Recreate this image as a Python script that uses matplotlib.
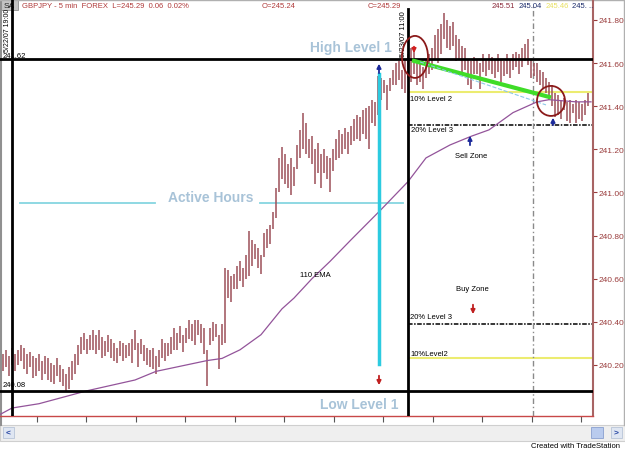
import matplotlib
matplotlib.use("Agg")
import matplotlib.pyplot as plt
from matplotlib.patches import Ellipse, Rectangle
import numpy as np

plt.rcParams['font.family'] = ['Liberation Sans', 'DejaVu Sans']

# GBPJPY 5 min bars
highs = [240.25, 240.27, 240.24, 240.28, 240.25, 240.27, 240.29, 240.28, 240.25, 240.26,
         240.24, 240.23, 240.25, 240.22, 240.24, 240.23, 240.21, 240.20, 240.23, 240.20,
         240.18, 240.16, 240.19, 240.22, 240.25, 240.29, 240.33, 240.35, 240.32, 240.34,
         240.36, 240.34, 240.36, 240.33, 240.31, 240.34, 240.32, 240.30, 240.28, 240.31,
         240.30, 240.29, 240.30, 240.32, 240.36, 240.30, 240.32, 240.29, 240.28, 240.27,
         240.28, 240.24, 240.27, 240.32, 240.30, 240.30, 240.33, 240.37, 240.35, 240.38,
         240.34, 240.37, 240.41, 240.39, 240.41, 240.41, 240.39, 240.37, 240.27, 240.37,
         240.40, 240.39, 240.34, 240.39, 240.65, 240.64, 240.61, 240.62, 240.66, 240.68,
         240.65, 240.71, 240.82, 240.78, 240.76, 240.74, 240.71, 240.81, 240.83, 240.85,
         240.91, 241.02, 241.16, 241.21, 241.18, 241.13, 241.16, 241.12, 241.22, 241.29,
         241.37, 241.32, 241.25, 241.26, 241.20, 241.23, 241.18, 241.20, 241.17, 241.16,
         241.20, 241.25, 241.29, 241.27, 241.30, 241.28, 241.31, 241.34, 241.36, 241.35,
         241.38, 241.39, 241.40, 241.43, 241.42, 241.54, 241.53, 241.52, 241.50, 241.53,
         241.57, 241.60, 241.61, 241.57, 241.62, 241.64, 241.67, 241.66, 241.62, 241.61,
         241.58, 241.62, 241.64, 241.67, 241.73, 241.76, 241.78, 241.83, 241.80, 241.77,
         241.79, 241.73, 241.71, 241.68, 241.67, 241.62, 241.61, 241.63, 241.62, 241.60,
         241.64, 241.62, 241.64, 241.63, 241.62, 241.64, 241.62, 241.61, 241.64, 241.62,
         241.64, 241.65, 241.64, 241.67, 241.69, 241.71, 241.62, 241.60, 241.60, 241.57,
         241.56, 241.53, 241.51, 241.50, 241.46, 241.45, 241.43, 241.44, 241.42, 241.43,
         241.41, 241.43, 241.42, 241.41, 241.43, 241.46]
lows = [240.17, 240.19, 240.15, 240.20, 240.17, 240.20, 240.22, 240.18, 240.16, 240.19,
        240.14, 240.15, 240.17, 240.13, 240.16, 240.13, 240.12, 240.11, 240.15, 240.12,
        240.10, 240.08, 240.09, 240.13, 240.16, 240.20, 240.25, 240.27, 240.25, 240.27,
        240.27, 240.25, 240.27, 240.23, 240.24, 240.26, 240.23, 240.22, 240.21, 240.24,
        240.22, 240.23, 240.24, 240.21, 240.27, 240.19, 240.25, 240.22, 240.20, 240.19,
        240.18, 240.16, 240.19, 240.23, 240.22, 240.24, 240.25, 240.27, 240.27, 240.30,
        240.26, 240.30, 240.32, 240.31, 240.29, 240.34, 240.30, 240.25, 240.10, 240.29,
        240.31, 240.33, 240.18, 240.29, 240.30, 240.51, 240.49, 240.55, 240.55, 240.59,
        240.56, 240.60, 240.61, 240.66, 240.69, 240.65, 240.62, 240.70, 240.74, 240.76,
        240.83, 240.88, 241.00, 241.06, 241.04, 241.02, 240.99, 241.03, 241.11, 241.16,
        241.20, 241.18, 241.16, 241.13, 241.04, 241.09, 241.02, 241.09, 241.06, 241.00,
        241.10, 241.15, 241.16, 241.18, 241.20, 241.18, 241.22, 241.24, 241.25, 241.24,
        241.27, 241.25, 241.20, 241.32, 241.31, 241.36, 241.43, 241.46, 241.38, 241.47,
        241.50, 241.50, 241.52, 241.48, 241.46, 241.53, 241.51, 241.55, 241.50, 241.51,
        241.48, 241.53, 241.55, 241.57, 241.62, 241.60, 241.64, 241.71, 241.67, 241.66,
        241.68, 241.61, 241.62, 241.56, 241.57, 241.50, 241.48, 241.55, 241.55, 241.48,
        241.56, 241.54, 241.57, 241.55, 241.53, 241.56, 241.51, 241.54, 241.55, 241.53,
        241.57, 241.58, 241.55, 241.58, 241.61, 241.59, 241.53, 241.54, 241.51, 241.50,
        241.48, 241.46, 241.43, 241.40, 241.35, 241.36, 241.34, 241.38, 241.33, 241.32,
        241.37, 241.32, 241.34, 241.33, 241.36, 241.40]

# 110 EMA, sampled along the curve
ema_bar = [-1, 3, 12, 28, 44, 51, 68, 73, 79, 86, 93, 97, 103, 109, 116, 126,
           135, 141, 149, 156, 162, 170, 178, 182, 191, 196]
ema_val = [239.97, 240.00, 240.02, 240.08, 240.13, 240.17, 240.22, 240.23, 240.27,
           240.34, 240.46, 240.51, 240.60, 240.68, 240.78, 240.92, 241.05, 241.16,
           241.22, 241.26, 241.29, 241.37, 241.42, 241.43, 241.42, 241.42]

high_level = 241.62
low_level = 240.08
sell_10 = 241.466
sell_20 = 241.312
buy_20 = 240.388
buy_10 = 240.234
price_ticks = [240.20, 240.40, 240.60, 240.80, 241.00, 241.20, 241.40, 241.60, 241.80]

W, H = 625, 452
fig = plt.figure(figsize=(W / 100, H / 100), dpi=100)

# background / frame in image pixels
bg = fig.add_axes([0, 0, 1, 1], zorder=0)
bg.set_xlim(0, W)
bg.set_ylim(H, 0)
bg.axis('off')
bg.add_patch(Rectangle((0, 426), W, 16, fc='#efefef', ec='#cfcfcf', lw=0.8))
bg.add_patch(Rectangle((3, 428), 11, 11, fc='#dfe6f2', ec='#b8c4d8', lw=0.6))
bg.text(8.5, 433.5, '<', ha='center', va='center', fontsize=6, color='#2040a0', weight='bold')
bg.add_patch(Rectangle((591, 428), 12, 11, fc='#b9cbee', ec='#8aa0d0', lw=0.6))
bg.add_patch(Rectangle((611, 428), 11, 11, fc='#dfe6f2', ec='#b8c4d8', lw=0.6))
bg.text(616.5, 433.5, '>', ha='center', va='center', fontsize=6, color='#2040a0', weight='bold')
bg.plot([1, 1], [0, 426], color='#909090', lw=1.5)
bg.plot([0, W], [0.5, 0.5], color='#b0b0b0', lw=1)
bg.plot([623.5, 623.5], [0, 426], color='#b0b0b0', lw=1)
bg.add_patch(Rectangle((0, 0), 18, 11, fc='#c4c4c4', ec='#909090', lw=0.6))
bg.text(9, 6, 'SA', ha='center', va='center', fontsize=6, color='#202020')

ax = fig.add_axes([0, 35 / H, 593 / W, 417 / H], zorder=1)
ax.patch.set_alpha(0)
ax.set_xlim(-1, 196.67)
ax.set_ylim(239.963, 241.897)


def pos(x, y):
    # image pixel -> chart coords
    return x / 3 - 1, 241.80 - (y - 21) / 215.6


bars = np.arange(len(highs))
ax.vlines(bars, lows, highs, color='#9c5058', lw=1.1, zorder=3)
ax.plot(ema_bar, ema_val, color='#93549a', lw=0.9, zorder=4)

# levels
ax.axhline(high_level, color='black', lw=2, zorder=5)
ax.axhline(low_level, color='black', lw=2, zorder=5)
x_sess = pos(408, 0)[0]
ax.hlines([sell_10, buy_10], x_sess, 196.67, color='#ecec70', lw=1.5, zorder=2)
ax.hlines([sell_20, buy_20], x_sess, 196.67, color='black', lw=1.1,
          linestyles=[(0, (3, 1, 1, 1))], zorder=2)

ax.axvline(pos(12, 0)[0], color='black', lw=2, zorder=5)
ax.axvline(x_sess, ymax=1 - 10 / 417, color='black', lw=2, zorder=5)
ax.axvline(pos(533, 0)[0], ymax=1 - 5 / 417, color='#8a8a8a', lw=1,
           ls=(0, (4, 2, 1, 2)), zorder=2)

# active hours
cx = pos(379, 0)[0]
ax.plot([cx, cx], [pos(0, 75)[1], pos(0, 365)[1]], color='#2ccbe0', lw=2.5, zorder=6)
ax.plot([pos(20, 0)[0], pos(155, 0)[0]], [pos(0, 204)[1]] * 2, color='#86d6e0', lw=1.3)
ax.plot([pos(260, 0)[0], pos(403, 0)[0]], [pos(0, 204)[1]] * 2, color='#86d6e0', lw=1.3)

big = dict(ha='center', va='center', color='#a8c3d8', fontsize=10, weight='bold', zorder=7)
ax.text(*pos(351, 48), 'High Level 1', **big)
ax.text(*pos(211, 198), 'Active Hours', **big)
ax.text(*pos(359, 405), 'Low Level 1', **big)

small = dict(fontsize=5.5, color='black', zorder=7)
ax.text(*pos(300, 276), '110 EMA', va='center', **small)
ax.text(*pos(410, 100), '10% Level 2', va='center', **small)
ax.text(*pos(411, 131), '20% Level 3', va='center', **small)
ax.text(*pos(471, 157), 'Sell Zone', ha='center', va='center', **small)
ax.text(*pos(472, 290), 'Buy Zone', ha='center', va='center', **small)
ax.text(*pos(410, 318), '20% Level 3', va='center', **small)
ax.text(*pos(410, 355), '10%Level2', va='center', **small)
ax.text(*pos(3, 57), '241.62', va='center', **small)
ax.text(*pos(3, 386), '240.08', va='center', **small)
ax.text(*pos(8, 30), '5/22/07 19:00', rotation=90, ha='center', va='center',
        fontsize=5, color='black', zorder=7)
ax.text(*pos(404, 34), '5/23/07 11:00', rotation=90, ha='center', va='center', **small)

# trend lines
ax.plot(*zip(pos(414, 62), pos(549, 98)), color='#3fdc28', lw=3, zorder=6)
ax.plot(*zip(pos(420, 63), pos(546, 106)), color='#8cc8e8', lw=0.8, ls='--', zorder=6)

ax.add_patch(Ellipse(pos(415, 58), 26 / 3, 42 / 215.6, fill=False, ec='#8b1a1a', lw=1.3, zorder=8))
ax.add_patch(Ellipse(pos(551, 102), 28 / 3, 30 / 215.6, fill=False, ec='#8b1a1a', lw=1.3, zorder=8))


def arrow(x, y0, y1, color):
    ax.annotate('', xy=pos(x, y1), xytext=pos(x, y0), zorder=8,
                arrowprops=dict(arrowstyle='-|>', color=color, lw=1.3, mutation_scale=6))


arrow(379, 77, 62, '#1c2a9a')
arrow(379, 374, 389, '#c02020')
arrow(470, 149, 134, '#1c2a9a')
arrow(473, 303, 318, '#c02020')
arrow(553, 129, 116, '#1c2a9a')
arrow(414, 45, 57, '#d02020')

# axes look
ax.yaxis.tick_right()
ax.set_yticks(price_ticks)
ax.set_yticklabels(['%.2f' % p for p in price_ticks])
ax.tick_params(axis='y', colors='#9a3c3c', labelsize=6, length=3, width=0.8, pad=1)
ax.set_xticks(np.arange(11.33, 197, 16.5))
ax.tick_params(axis='x', length=4, width=0.8, color='#555555', labelbottom=False)
for s in ['left', 'top']:
    ax.spines[s].set_visible(False)
ax.spines['right'].set_color('#a86464')
ax.spines['right'].set_linewidth(1.5)
ax.spines['bottom'].set_color('#c84848')
ax.spines['bottom'].set_linewidth(1)

# header
hdr = dict(fontsize=5.5, va='center')
fig.text(22 / W, 1 - 7 / H, 'GBPJPY - 5 min  FOREX  L=245.29  0.06  0.02%', color='#b03a3a', **hdr)
fig.text(262 / W, 1 - 7 / H, 'O=245.24', color='#b03a3a', **hdr)
fig.text(368 / W, 1 - 7 / H, 'C=245.29', color='#b03a3a', **hdr)
fig.text(492 / W, 1 - 7 / H, '245.51', color='#8a2a3a', **hdr)
fig.text(519 / W, 1 - 7 / H, '245.04', color='#1a2a6a', **hdr)
fig.text(546 / W, 1 - 7 / H, '245.46', color='#e8e060', **hdr)
fig.text(572 / W, 1 - 7 / H, '245. ..', color='#1a2a6a', **hdr)
fig.text(620 / W, 1 - 447 / H, 'Created with TradeStation', ha='right', color='black', **hdr)

fig.savefig('out.png', dpi=100)
